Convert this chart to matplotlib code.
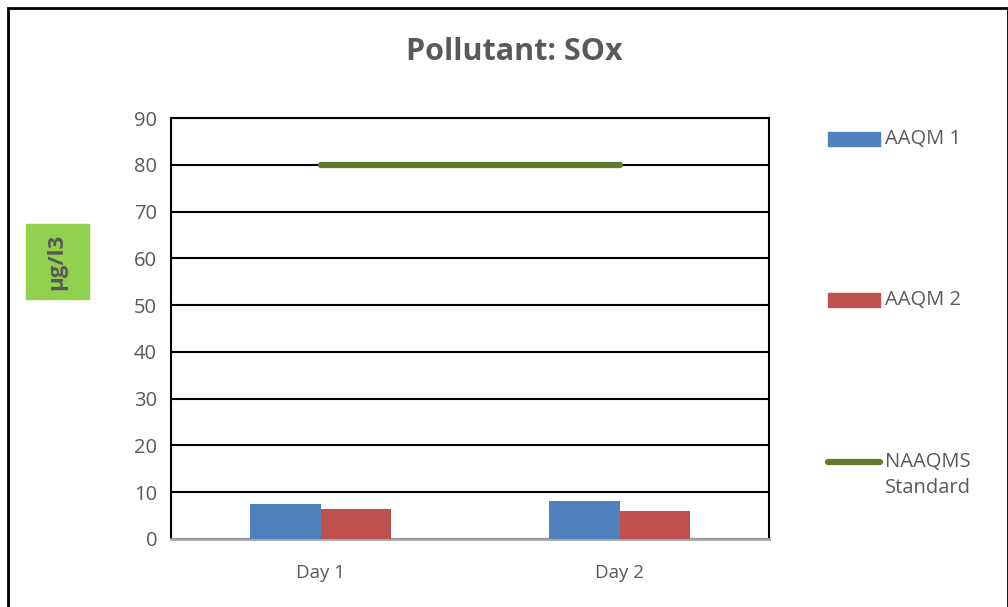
import matplotlib.pyplot as plt
import numpy as np
from matplotlib.patches import Rectangle
from matplotlib.lines import Line2D

# Data
days = ['Day 1', 'Day 2']
aaqm1 = [7.5, 8.1]
aaqm2 = [6.4, 6.0]
naaqms = [80, 80]

plt.rcParams['font.family'] = ['Open Sans', 'DejaVu Sans']
text_col = '#595959'
blue, red, green = '#4F81BD', '#C0504D', '#63782F'

fig = plt.figure(figsize=(10.08, 6.07), dpi=100)
W, H = 1008, 607

# plot area in pixel coords -> figure fractions
left, right, top, bottom = 171, 769, 118, 539
ax = fig.add_axes([left / W, 1 - bottom / H, (right - left) / W, (bottom - top) / H])

x = np.arange(len(days))
bw = 0.237
ax.bar(x - bw / 2, aaqm1, bw, color=blue, zorder=3)
ax.bar(x + bw / 2, aaqm2, bw, color=red, zorder=3)
ax.plot(x, naaqms, color=green, lw=4.5, solid_capstyle='round', zorder=4)

ax.set_xlim(-0.5, 1.5)
ax.set_ylim(0, 90)
ax.set_yticks(range(0, 91, 10))
ax.set_xticks(x)
ax.set_xticklabels(days)
ax.yaxis.grid(True, color='black', lw=1.5, zorder=0)
ax.tick_params(axis='both', length=0, labelsize=14.5, colors=text_col, pad=10)
ax.tick_params(axis='x', labelsize=13.5, pad=18)
for side in ['left', 'right', 'top']:
    ax.spines[side].set_color('black')
    ax.spines[side].set_linewidth(1.5)
ax.spines['bottom'].set_color('#A6A6A6')
ax.spines['bottom'].set_linewidth(2)

fig.text(514 / W, 1 - 52 / H, 'Pollutant: SOx', ha='center', va='center',
         fontsize=22, fontweight='bold', color=text_col)

# y label in a green box
fig.patches.append(Rectangle((26 / W, 1 - 299 / H), 63 / W, 75 / H,
                             transform=fig.transFigure, color='#92D050', zorder=1))
fig.text(57 / W, 1 - 262 / H, 'µg/l3', rotation=90, ha='center', va='center',
         fontsize=16, fontweight='bold', color=text_col, zorder=2)

# outer chart border
fig.patches.append(Rectangle((8 / W, -0.05), (W - 8) / W, 1.05 - 8 / H,
                             transform=fig.transFigure, fill=False,
                             edgecolor='black', lw=2))

# legend drawn by hand, spaced out like the original
fs = 14.5
y1, y2, y3 = [1 - v / H for v in (139, 300, 462)]
fig.patches.append(Rectangle((828 / W, y1 - 7 / H), 52 / W, 14 / H,
                             transform=fig.transFigure, color=blue))
fig.text(885 / W, y1, 'AAQM 1', ha='left', va='center', fontsize=fs, color=text_col)
fig.patches.append(Rectangle((828 / W, y2 - 7 / H), 52 / W, 14 / H,
                             transform=fig.transFigure, color=red))
fig.text(885 / W, y2, 'AAQM 2', ha='left', va='center', fontsize=fs, color=text_col)
fig.lines.append(Line2D([828 / W, 880 / W], [y3, y3], transform=fig.transFigure,
                        color=green, lw=4.5, solid_capstyle='round'))
fig.text(885 / W, y3 + 10 / H, 'NAAQMS\nStandard', ha='left', va='top', fontsize=fs,
         color=text_col, linespacing=1.4)

fig.savefig('out.png', dpi=100)
